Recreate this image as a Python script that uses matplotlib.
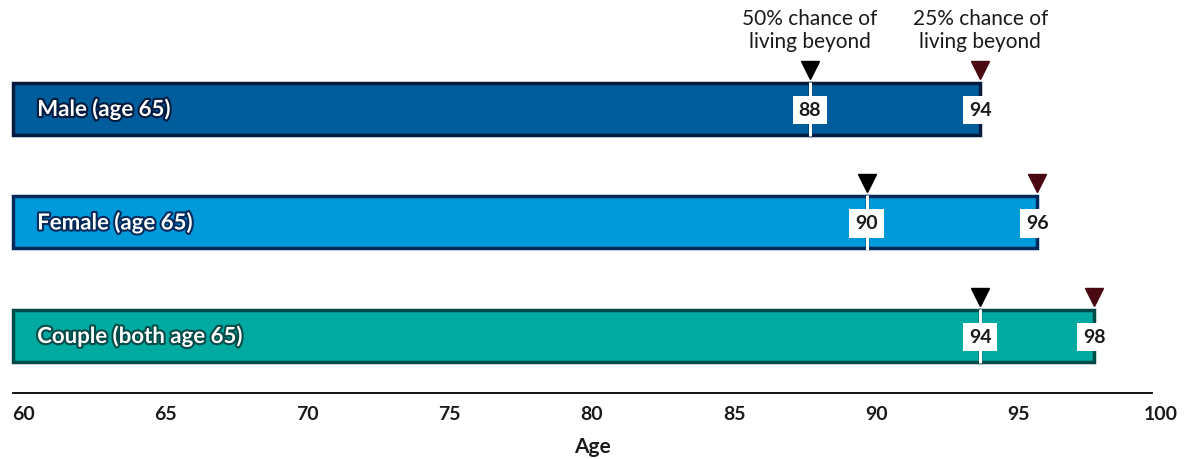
import matplotlib.pyplot as plt
import matplotlib.patheffects as pe
from matplotlib.transforms import offset_copy

plt.rcParams['font.family'] = ['Lato', 'DejaVu Sans']

# data
groups = ['Male (age 65)', 'Female (age 65)', 'Couple (both age 65)']
age_50 = [88, 90, 94]   # 50% chance of living beyond
age_25 = [94, 96, 98]   # 25% chance of living beyond
start_age = 60
xticks = [60, 65, 70, 75, 80, 85, 90, 95, 100]
bar_colors = ['#005d9b', '#0099da', '#00aaa0']
edge_colors = ['#001b3f', '#002a5c', '#004a47']

fig = plt.figure(figsize=(11.92, 4.59), dpi=100)
ax = fig.add_axes([0, 0, 1, 1])
ax.set_xlim(59.543, 101.44)
ax.set_ylim(3.084, -0.960)
ax.axis('off')

bar_h = 0.458
for i, g in enumerate(groups):
    # two segments: start -> 50% and 50% -> 25%
    ax.barh(i, age_50[i] - start_age, left=start_age, height=bar_h,
            color=bar_colors[i], edgecolor=edge_colors[i], linewidth=2.5)
    ax.barh(i, age_25[i] - age_50[i], left=age_50[i], height=bar_h,
            color=bar_colors[i], edgecolor=edge_colors[i], linewidth=2.5)
    # white gap at the 50% point
    ax.plot([age_50[i], age_50[i]], [i - bar_h / 2 - 0.01, i + bar_h / 2 + 0.01],
            color='white', lw=2.2, solid_capstyle='butt', zorder=3)
    # group label inside bar
    ax.text(start_age + 0.85, i, g, color='white', fontsize=16, fontweight='bold',
            va='center', ha='left', zorder=4,
            path_effects=[pe.withStroke(linewidth=3, foreground=edge_colors[i])])
    # markers above the bar
    ax.plot(age_50[i], i - 0.344, marker='v', markersize=13, color='black',
            linestyle='none', zorder=4)
    ax.plot(age_25[i], i - 0.344, marker='v', markersize=13, color='#4a0810',
            linestyle='none', zorder=4)
    # value boxes
    for v in (age_50[i], age_25[i]):
        ax.text(v, i + 0.01, str(v), fontsize=14, fontweight='bold', color='#1a1a1a',
                ha='center', va='center', zorder=5,
                bbox=dict(boxstyle='square,pad=0.3', facecolor='white', edgecolor='none'))

# column headers
ax.text(age_50[0], -0.69, '50% chance of\nliving beyond', fontsize=15, ha='center',
        va='center', color='#1a1a1a', linespacing=1.15)
ax.text(age_25[0], -0.69, '25% chance of\nliving beyond', fontsize=15, ha='center',
        va='center', color='#1a1a1a', linespacing=1.15)

# baseline axis
ax.plot([start_age, 100.05], [2.502, 2.502], color='black', lw=1.3)
lab_tr = offset_copy(ax.transData, fig=fig, x=10, y=0, units='dots')
for t in xticks:
    ax.text(t, 2.696, str(t), fontsize=14, fontweight='bold', color='#1a1a1a',
            ha='center', va='center', transform=lab_tr)
ax.text(80, 2.98, 'Age', fontsize=15, fontweight='bold', color='#1a1a1a',
        ha='center', va='center', transform=lab_tr)

fig.savefig('out.png', dpi=100)
